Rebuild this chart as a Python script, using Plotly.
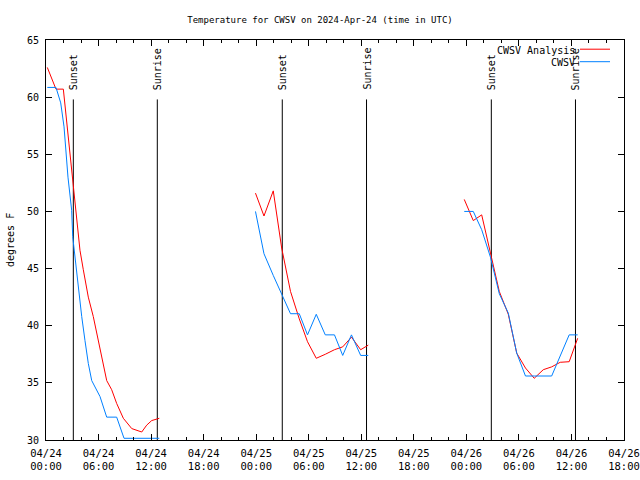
import plotly.graph_objects as go

# hours since 2024-04-24 00:00 UTC
analysis_hours = [0.15, 1.14, 1.98, 3.20, 3.57, 3.88, 4.26, 4.83, 5.40, 5.79, 6.36, 6.93, 7.50, 8.07, 8.83, 9.79, 10.93, 11.50, 12.07, 12.94,
                  None,
                  23.92, 24.89, 25.95, 26.91, 27.92, 28.92, 29.86, 30.86, 31.89, 32.94, 33.88, 34.88, 35.93, 36.80,
                  None,
                  47.76, 48.79, 49.75, 50.75, 51.76, 52.79, 53.75, 54.75, 55.75, 56.78, 57.74, 58.72, 59.74, 60.71]
analysis_temp = [62.6, 60.7, 60.7, 51.9, 49.0, 46.6, 44.9, 42.5, 40.8, 39.3, 37.3, 35.2, 34.4, 33.2, 31.9, 31.0, 30.7, 31.3, 31.7, 31.9,
                 None,
                 51.6, 49.6, 51.8, 46.8, 43.0, 40.6, 38.6, 37.15, 37.5, 37.9, 38.15, 39.0, 37.9, 38.3,
                 None,
                 51.05, 49.2, 49.7, 46.3, 43.0, 41.0, 37.6, 36.3, 35.4, 36.15, 36.4, 36.8, 36.85, 38.9]

obs_hours = [0.15, 1.14, 1.68, 2.06, 2.51, 2.93, 3.05, 3.31, 3.69, 4.08, 4.45, 4.83, 5.22, 6.17, 6.93, 8.07, 8.91, 12.94,
             None,
             23.92, 24.89, 25.95, 26.91, 27.92, 28.92, 29.86, 30.86, 31.89, 32.94, 33.88, 34.88, 35.93, 36.80,
             None,
             47.76, 48.79, 49.75, 50.75, 51.76, 52.79, 53.75, 54.75, 55.75, 56.78, 57.74, 59.74, 60.71]
obs_temp = [60.85, 60.85, 59.5, 57.4, 53.0, 50.1, 47.8, 46.0, 43.1, 40.8, 38.7, 36.7, 35.2, 33.8, 32.0, 32.0, 30.15, 30.15,
            None,
            50.0, 46.3, 44.4, 42.7, 41.05, 41.05, 39.2, 41.0, 39.2, 39.2, 37.4, 39.2, 37.4, 37.4,
            None,
            50.0, 50.0, 48.4, 46.0, 42.8, 41.1, 37.6, 35.6, 35.6, 35.6, 35.6, 39.2, 39.2]

sun_hours = [3.12, 12.71, 26.98, 36.60, 50.85, 60.46]
sun_names = ["Sunset", "Sunrise", "Sunset", "Sunrise", "Sunset", "Sunrise"]
sun_line_bottom = 30
sun_line_top = 59.8
sun_label_base = 60.45

x_tick_vals = [0, 6, 12, 18, 24, 30, 36, 42, 48, 54, 60, 66]
x_tick_text = ["04/24<br>00:00", "04/24<br>06:00", "04/24<br>12:00", "04/24<br>18:00",
               "04/25<br>00:00", "04/25<br>06:00", "04/25<br>12:00", "04/25<br>18:00",
               "04/26<br>00:00", "04/26<br>06:00", "04/26<br>12:00", "04/26<br>18:00"]
y_tick_vals = [30, 35, 40, 45, 50, 55, 60, 65]

series_names = ["CWSV Analysis", "CWSV"]
series_colors = ["#ff0000", "#0080ff"]

FONT = "DejaVu Sans Mono"

fig = go.Figure()

# sunrise / sunset markers
sx, sy = [], []
for h in sun_hours:
    sx += [h, h, None]
    sy += [sun_line_bottom, sun_line_top, None]
fig.add_trace(go.Scatter(x=sx, y=sy, mode="lines", line=dict(color="black", width=1),
                         hoverinfo="skip", showlegend=False))

fig.add_trace(go.Scatter(x=analysis_hours, y=analysis_temp, mode="lines", name=series_names[0],
                         line=dict(color=series_colors[0], width=1), connectgaps=False, showlegend=False))
fig.add_trace(go.Scatter(x=obs_hours, y=obs_temp, mode="lines", name=series_names[1],
                         line=dict(color=series_colors[1], width=1), connectgaps=False, showlegend=False))

for h, name in zip(sun_hours, sun_names):
    fig.add_annotation(x=h, y=sun_label_base, xref="x", yref="y", text=name, textangle=-90,
                       showarrow=False, xanchor="center", yanchor="bottom",
                       font=dict(family=FONT, size=10, color="black"))

# legend (gnuplot style: text right-aligned, sample to the right)
L, W, T, H = 46, 578, 40, 400
def px(x):
    return (x - L) / W
def py(y):
    return (T + H - y) / H

legend_rows = [50, 62.5]
for name, color, yy in zip(series_names, series_colors, legend_rows):
    fig.add_annotation(x=px(577), y=py(yy), xref="paper", yref="paper", text=name, showarrow=False,
                       xanchor="right", yanchor="middle", font=dict(family=FONT, size=10, color="black"))
    fig.add_shape(type="line", xref="paper", yref="paper", x0=px(580), x1=px(610),
                  y0=py(yy - 0.8), y1=py(yy - 0.8), line=dict(color=color, width=1))

fig.add_annotation(x=px(10), y=0.5, xref="paper", yref="paper", text="degrees F", textangle=-90,
                   showarrow=False, xanchor="center", yanchor="middle",
                   font=dict(family=FONT, size=10, color="black"))

fig.update_layout(
    width=640, height=480,
    margin=dict(l=46, r=16, t=40, b=40, autoexpand=False),
    paper_bgcolor="white", plot_bgcolor="white",
    font=dict(family=FONT, size=10, color="black"),
    title=dict(text="Temperature for CWSV on 2024-Apr-24 (time in UTC)", x=0.5, xanchor="center",
               y=1 - 20 / 480, yanchor="middle", font=dict(family=FONT, size=9, color="black")),
    showlegend=False,
)
fig.update_xaxes(range=[0, 66], tickmode="array", tickvals=x_tick_vals, ticktext=x_tick_text,
                 ticks="inside", ticklen=6, tickcolor="black", showline=True, linecolor="black",
                 linewidth=1, mirror="ticks", showgrid=False, zeroline=False, automargin=False,
                 ticklabelstandoff=3, tickfont=dict(family=FONT, size=10.5, color="black"),
                 minor=dict(dtick=2, tick0=0, ticks="inside", ticklen=3, tickcolor="black"))
fig.update_yaxes(range=[30, 65], tickmode="array", tickvals=y_tick_vals,
                 ticks="inside", ticklen=6, tickcolor="black", showline=True, linecolor="black",
                 linewidth=1, mirror="ticks", showgrid=False, zeroline=False, automargin=False,
                 ticklabelstandoff=4)

fig.write_html("out.html")
